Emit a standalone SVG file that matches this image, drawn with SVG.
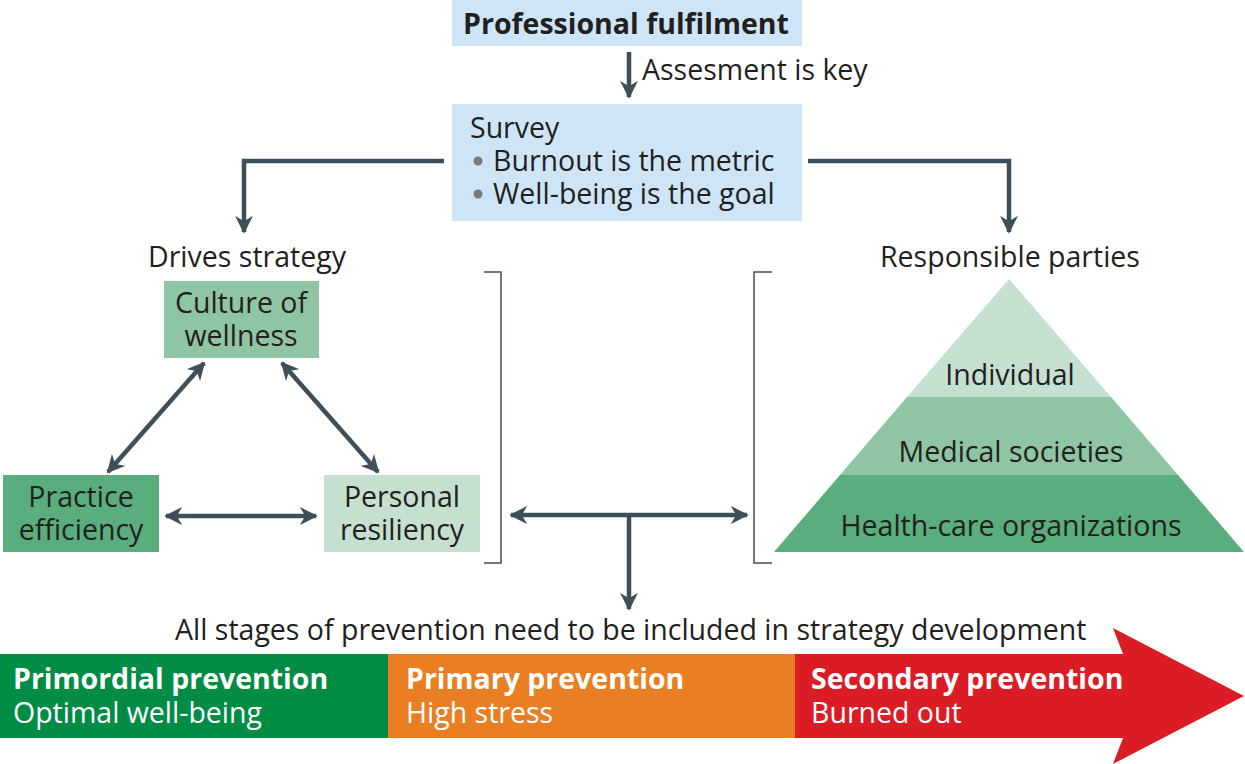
<svg xmlns="http://www.w3.org/2000/svg" width="1245" height="764" viewBox="0 0 1245 764">
<defs>
<style>
text{font-family:"Open Sans",Lato,"Liberation Sans",sans-serif;fill:#231f20;font-size:28.5px}
.b{font-weight:bold}
.w{fill:#ffffff}
.c{text-anchor:middle}
.ln{stroke:#3c4f5a;stroke-width:4.5;fill:none}
.br{stroke:#3c4f5a;stroke-width:1.5;fill:none}
.blue{fill:#cde5f6}
.g1{fill:#c5e0cf}
.g2{fill:#8fc5a3}
.g3{fill:#5aad7c}
</style>
<marker id="ah" viewBox="0 0 10 10" refX="9" refY="5" markerWidth="4" markerHeight="4" markerUnits="strokeWidth" orient="auto-start-reverse">
<path d="M0,0 L10,5 L0,10 L3,5 Z" fill="#3c4f5a"/>
</marker>
</defs>
<rect width="1245" height="764" fill="#ffffff"/>

<g id="professional-fulfilment">
<rect class="blue" x="452" y="0" width="350" height="46"/>
<text class="b c" x="626" y="34">Professional fulfilment</text>
</g>

<g id="survey">
<rect class="blue" x="452" y="104" width="350" height="117"/>
<circle cx="478" cy="161" r="4.5" fill="#7a7a7a"/>
<circle cx="478" cy="194" r="4.5" fill="#7a7a7a"/>
<text x="470" y="138">Survey<tspan x="493" y="171">Burnout is the metric</tspan><tspan x="493" y="204">Well-being is the goal</tspan></text>
</g>

<g id="drives-strategy">
<text class="c" x="247" y="267">Drives strategy</text>
</g>

<g id="culture-of-wellness">
<rect class="g2" x="164" y="281" width="155" height="77"/>
<text class="c" x="241" y="313">Culture of<tspan x="241" y="346">wellness</tspan></text>
</g>

<g id="practice-efficiency">
<rect class="g3" x="3" y="475" width="156" height="77"/>
<text class="c" x="81" y="507">Practice<tspan x="81" y="540">efficiency</tspan></text>
</g>

<g id="personal-resiliency">
<rect class="g1" x="324" y="475" width="156" height="77"/>
<text class="c" x="402" y="507">Personal<tspan x="402" y="540">resiliency</tspan></text>
</g>

<g id="responsible-parties">
<text class="c" x="1010" y="267">Responsible parties</text>
<polygon class="g1" points="1009,279 1111,397 907,397"/>
<polygon class="g2" points="907,397 1111,397 1178,475 840,475"/>
<polygon class="g3" points="840,475 1178,475 1244,552 774,552"/>
<text class="c" x="1010" y="385">Individual</text>
<text class="c" x="1011" y="462">Medical societies</text>
<text class="c" x="1011" y="536">Health-care organizations</text>
</g>

<g id="prevention-stages">
<text x="175" y="640">All stages of prevention need to be included in strategy development</text>
<rect x="0" y="654" width="388" height="84" fill="#008c45"/>
<rect x="388" y="654" width="407" height="84" fill="#e97f22"/>
<polygon points="795,654 1123,654 1113,628 1244,696 1113,764 1123,738 795,738" fill="#dc1c24"/>
<text class="w" x="13" y="689"><tspan class="b w">Primordial prevention</tspan><tspan x="13" y="723">Optimal well-being</tspan></text>
<text class="w" x="406" y="689"><tspan class="b w">Primary prevention</tspan><tspan x="406" y="723">High stress</tspan></text>
<text class="w" x="811" y="689"><tspan class="b w">Secondary prevention</tspan><tspan x="811" y="723">Burned out</tspan></text>
</g>

<g id="connectors">
<line class="ln" x1="629" y1="52" x2="629" y2="97" marker-end="url(#ah)"/>
<text x="642" y="80">Assesment is key</text>
<polyline class="ln" points="444,161 244,161 244,232" marker-end="url(#ah)"/>
<polyline class="ln" points="808,161 1009,161 1009,232" marker-end="url(#ah)"/>
<line class="ln" x1="204" y1="363" x2="108" y2="472" marker-start="url(#ah)" marker-end="url(#ah)"/>
<line class="ln" x1="282" y1="363" x2="378" y2="472" marker-start="url(#ah)" marker-end="url(#ah)"/>
<line class="ln" x1="166" y1="516" x2="316" y2="516" marker-start="url(#ah)" marker-end="url(#ah)"/>
<polyline class="br" points="484,272 501,272 501,563 484,563"/>
<polyline class="br" points="772,272 754,272 754,563 772,563"/>
<line class="ln" x1="511" y1="515" x2="747" y2="515" marker-start="url(#ah)" marker-end="url(#ah)"/>
<line class="ln" x1="629" y1="515" x2="629" y2="609" marker-end="url(#ah)"/>
</g>
</svg>
